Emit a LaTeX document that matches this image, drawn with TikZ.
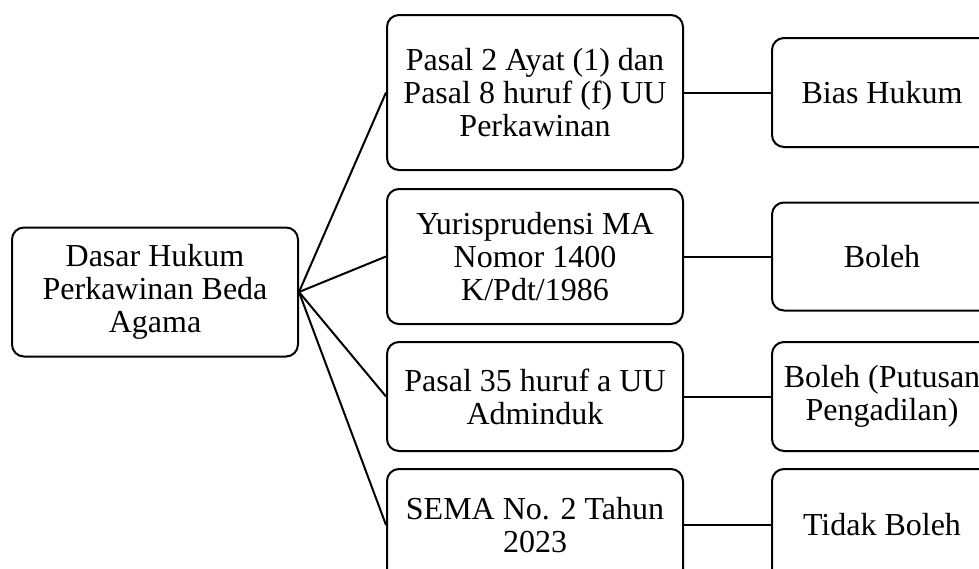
\documentclass[tikz,border=0pt]{standalone}
\usepackage{fontspec}
\setmainfont{Liberation Serif}
\usetikzlibrary{positioning}

\begin{document}
\begin{tikzpicture}[%
    x=1pt, y=1pt,
    every node/.style={%
      font=\rmfamily\fontsize{32}{33}\selectfont,
      text=black,
      text centered,
      align=center
    },
    box/.style={draw=black, line width=2pt, rounded corners=12pt, inner sep=0pt},
    midbox/.style={box, minimum width=296pt},
    endbox/.style={box, minimum width=220pt},
    link/.style={draw=black, line width=2pt}
  ]

  \useasboundingbox (0,0) rectangle (979,-568);

  \node[box, minimum width=286pt, minimum height=129pt] (dasar) at (155,-292)
    {Dasar Hukum\\Perkawinan Beda\\Agama};

  % Middle column
  \node[midbox, minimum height=155pt] (m1) at (535,-92.5)
    {Pasal 2 Ayat (1) dan\\Pasal 8 huruf (f) UU\\Perkawinan};
  \node[midbox, minimum height=135pt, below=17pt of m1] (m2)
    {Yurisprudensi MA\\Nomor 1400\\K/Pdt/1986};
  \node[midbox, minimum height=109pt, below=16pt of m2] (m3)
    {Pasal 35 huruf a UU\\Adminduk};
  \node[midbox, minimum height=112pt, below=16pt of m3] (m4)
    {SEMA No. 2 Tahun\\2023};

  % Right column
  \node[endbox, minimum height=109pt, right=87pt of m1] (r1) {Bias Hukum};
  \node[endbox, minimum height=108pt, right=87pt of m2] (r2) {Boleh};
  \node[endbox, minimum height=109pt, right=87pt of m3] (r3) {Boleh (Putusan\\Pengadilan)};
  \node[endbox, minimum height=112pt, right=87pt of m4] (r4) {Tidak Boleh};

  % Connectors
  \draw[link] (dasar.east) -- (m1.west);
  \draw[link] (dasar.east) -- (m2.west);
  \draw[link] (dasar.east) -- (m3.west);
  \draw[link] (dasar.east) -- (m4.west);
  \draw[link] (m1.east) -- (r1.west);
  \draw[link] (m2.east) -- (r2.west);
  \draw[link] (m3.east) -- (r3.west);
  \draw[link] (m4.east) -- (r4.west);

\end{tikzpicture}
\end{document}
